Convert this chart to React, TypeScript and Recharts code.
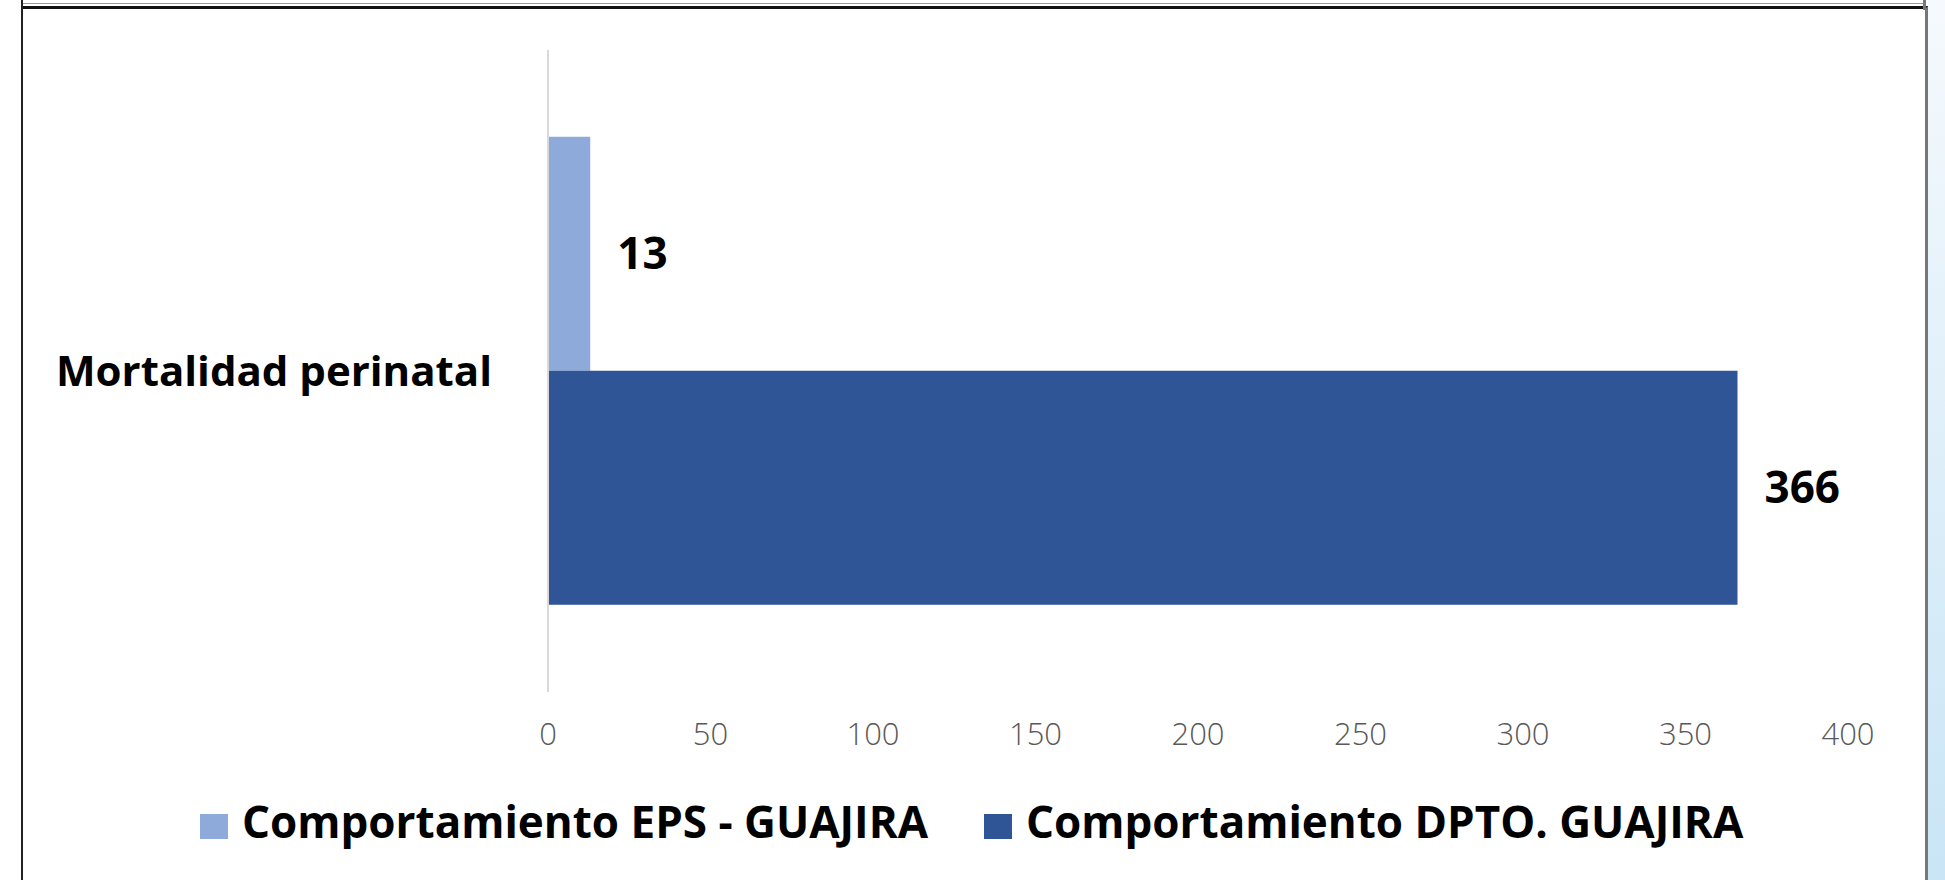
import { BarChart, Bar, XAxis, YAxis, Legend, LabelList } from 'recharts';

// Data
const categories = ['Mortalidad perinatal'];
const epsValues = [13];
const dptoValues = [366];
const seriesNames = ['Comportamiento EPS - GUAJIRA', 'Comportamiento DPTO. GUAJIRA'];
const seriesColors = ['#8eaadb', '#2f5597'];
const xTicks = [0, 50, 100, 150, 200, 250, 300, 350, 400];

const data = categories.map((name, i) => ({
  name,
  eps: epsValues[i],
  dpto: dptoValues[i],
}));

const FONT = '"Open Sans", "Noto Sans", sans-serif';

// Category label on the left, bold black
const CategoryTick = (props: any) => {
  const { x, y, payload } = props;
  return (
    <text
      x={x}
      y={y}
      dy="0.36em"
      textAnchor="end"
      fill="#000"
      fontFamily={FONT}
      fontWeight={700}
      fontSize={42}
    >
      {payload.value}
    </text>
  );
};

// legend keeps the series order (recharts would sort it by name)
const LegendContent = () => {
  return (
    <div style={{ height: 52, display: 'flex', alignItems: 'center', paddingLeft: 200 }}>
      {seriesNames.map((name, i) => (
        <div
          key={`leg-${i}`}
          style={{ display: 'flex', alignItems: 'center', width: i === 0 ? 784 : 'auto' }}
        >
          <span
            style={{
              display: 'inline-block',
              width: 28,
              height: 25,
              marginTop: 10,
              backgroundColor: seriesColors[i],
              marginRight: 14,
            }}
          />
          <span
            style={{
              fontFamily: FONT,
              fontWeight: 700,
              fontSize: 44,
              color: '#000',
              whiteSpace: 'nowrap',
            }}
          >
            {name}
          </span>
        </div>
      ))}
    </div>
  );
};

export default function App() {
  return (
    <div
      style={{
        position: 'fixed',
        top: 0,
        left: 0,
        width: 1945,
        height: 880,
        overflow: 'hidden',
        background: '#fff',
      }}
    >
      {/* page background on the right */}
      <div
        style={{
          position: 'absolute',
          left: 1928,
          top: 0,
          width: 17,
          height: 880,
          background: 'linear-gradient(180deg, #f6fafd 0%, #e3f1fa 40%, #c9e5f6 100%)',
        }}
      />
      {/* table cell frame */}
      <div style={{ position: 'absolute', left: 21, top: 3, width: 1905, height: 1, background: '#9a9a9a' }} />
      <div
        style={{
          position: 'absolute',
          left: 21,
          top: 6,
          width: 1902,
          height: 900,
          borderTop: '3px solid #111',
          borderLeft: '2px solid #222',
          borderRight: '3px solid #777',
        }}
      />
      <div style={{ position: 'absolute', left: 21, top: 0, width: 2, height: 10, background: '#222' }} />
      <div style={{ position: 'absolute', left: 1923, top: 0, width: 3, height: 10, background: '#777' }} />

      <div style={{ position: 'absolute', left: 0, top: 0 }}>
        <BarChart
          layout="vertical"
          width={1945}
          height={880}
          data={data}
          margin={{ top: 50, right: 97, bottom: 33, left: 0 }}
          barCategoryGap="13.5%"
          barGap={0}
        >
          <XAxis
            type="number"
            domain={[0, 400]}
            ticks={xTicks}
            axisLine={false}
            tickLine={false}
            tickSize={0}
            tickMargin={31}
            height={103}
            tick={{ fill: '#595959', fontSize: 31, fontFamily: FONT, fontWeight: 300 }}
          />
          <YAxis
            type="category"
            dataKey="name"
            width={548}
            axisLine={{ stroke: '#d9d9d9', strokeWidth: 2 }}
            tickLine={false}
            tickSize={0}
            tickMargin={56}
            tick={<CategoryTick />}
          />
          <Legend verticalAlign="bottom" content={<LegendContent />} />
          <Bar dataKey="eps" name={seriesNames[0]} fill={seriesColors[0]} isAnimationActive={false}>
            <LabelList
              dataKey="eps"
              position="right"
              offset={27}
              fill="#000"
              fontFamily={FONT}
              fontWeight={700}
              fontSize={44}
            />
          </Bar>
          <Bar dataKey="dpto" name={seriesNames[1]} fill={seriesColors[1]} isAnimationActive={false}>
            <LabelList
              dataKey="dpto"
              position="right"
              offset={27}
              fill="#000"
              fontFamily={FONT}
              fontWeight={700}
              fontSize={44}
            />
          </Bar>
        </BarChart>
      </div>
    </div>
  );
}
